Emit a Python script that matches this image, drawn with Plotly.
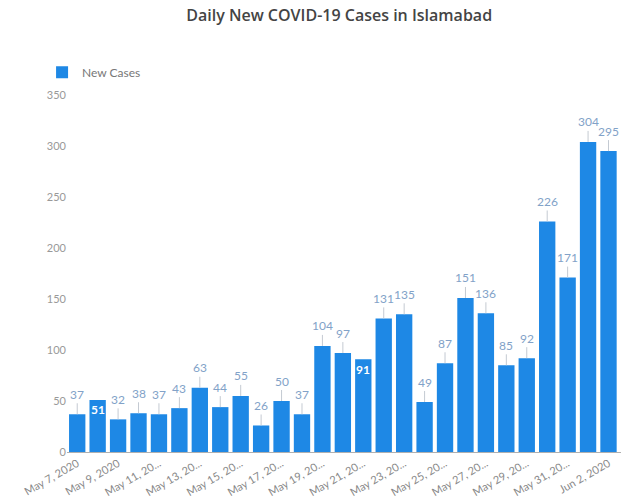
import plotly.graph_objects as go

dates = ["May 7, 2020", "May 8, 2020", "May 9, 2020", "May 10, 2020", "May 11, 2020",
         "May 12, 2020", "May 13, 2020", "May 14, 2020", "May 15, 2020", "May 16, 2020",
         "May 17, 2020", "May 18, 2020", "May 19, 2020", "May 20, 2020", "May 21, 2020",
         "May 22, 2020", "May 23, 2020", "May 24, 2020", "May 25, 2020", "May 26, 2020",
         "May 27, 2020", "May 28, 2020", "May 29, 2020", "May 30, 2020", "May 31, 2020",
         "Jun 1, 2020", "Jun 2, 2020"]
new_cases = [37, 51, 32, 38, 37, 43, 63, 44, 55, 26, 50, 37, 104, 97, 91,
             131, 135, 49, 87, 151, 136, 85, 92, 226, 171, 304, 295]
tick_dates = dates[::2]
tick_labels = ["May 7, 2020", "May 9, 2020", "May 11, 20...", "May 13, 20...",
               "May 15, 20...", "May 17, 20...", "May 19, 20...", "May 21, 20...",
               "May 23, 20...", "May 25, 20...", "May 27, 20...", "May 29, 20...",
               "May 31, 20...", "Jun 2, 2020"]
inside_labels = ["May 8, 2020", "May 21, 2020"]

BAR = "#1e88e5"
FONT = "Lato"

fig = go.Figure()
fig.add_trace(go.Bar(x=dates, y=new_cases, name="New Cases",
                     marker=dict(color=BAR, line=dict(width=0))))

annotations = []
for d, v in zip(dates, new_cases):
    if d in inside_labels:
        annotations.append(dict(x=d, y=v, text=f"<b>{v}</b>", showarrow=False,
                                yshift=-10, font=dict(family=FONT, size=12, color="white")))
    else:
        annotations.append(dict(x=d, y=v, text=str(v), showarrow=True, ax=0, ay=-20,
                                arrowhead=0, arrowwidth=1, arrowcolor="#c4cad2",
                                standoff=0, startstandoff=0,
                                font=dict(family=FONT, size=12, color="#82a2c8")))

fig.update_layout(
    width=640, height=502,
    margin=dict(l=67, r=19, t=95, b=50, autoexpand=False),
    paper_bgcolor="white", plot_bgcolor="white",
    title=dict(text="Daily New COVID-19 Cases in Islamabad", x=0.53, xanchor="center",
               y=0.97, yanchor="middle",
               font=dict(family="Open Sans", size=16, color="#444444", weight=600)),
    showlegend=True,
    legend=dict(x=-0.045, y=1.064, xanchor="left", yanchor="middle", orientation="h",
                font=dict(family=FONT, size=12, color="#777777")),
    bargap=0.2,
    annotations=annotations,
    xaxis=dict(type="category", tickmode="array", tickvals=tick_dates, ticktext=tick_labels,
               tickangle=-30, showgrid=False, showline=True, linecolor="#b0b0b0",
               linewidth=1, ticks="", automargin=False,
               tickfont=dict(family=FONT, size=11, color="#888888")),
    yaxis=dict(range=[0, 350], dtick=50, showgrid=False, zeroline=False, showline=False,
               ticks="", automargin=False,
               tickfont=dict(family=FONT, size=11, color="#999999")),
)

fig.write_html("out.html")
